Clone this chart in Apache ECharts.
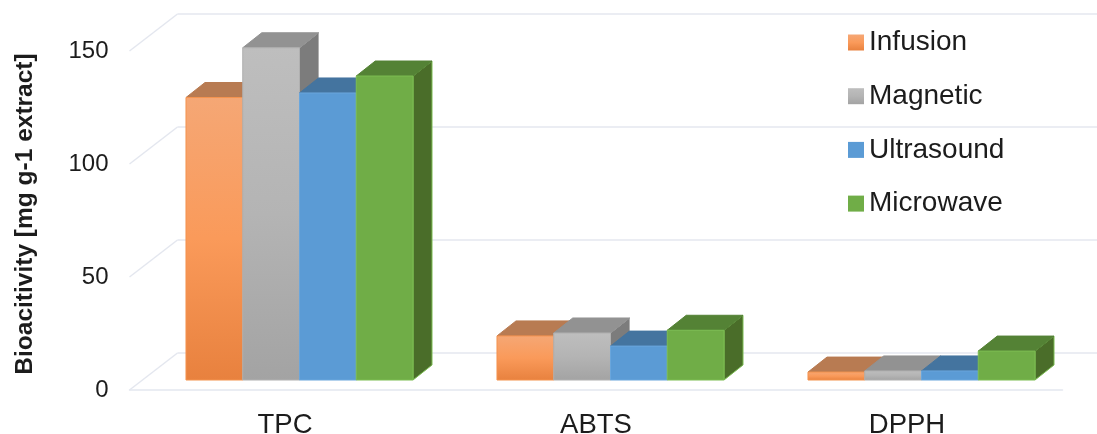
<!DOCTYPE html>
<html>
<head>
<meta charset="utf-8">
<style>
    html, body { margin: 0; padding: 0; background: #fff; }
    #main { width: 1097px; height: 434px; }
</style>
<script src="https://cdn.jsdelivr.net/npm/echarts@6/dist/echarts.min.js"></script>
</head>
<body>
<div id="main"></div>
<script>
let categories = ['TPC', 'ABTS', 'DPPH'];
let yTicks = [0, 50, 100, 150];
let infusion = [125, 19.5, 3.5];
let magnetic = [147, 20.8, 4];
let ultrasound = [127, 15, 4];
let microwave = [134.5, 22, 12.8];

let names = ['Infusion', 'Magnetic', 'Ultrasound', 'Microwave'];
let values = [infusion, magnetic, ultrasound, microwave];
let colors = [
    { front: ['#F5A775', '#FA9A5A', '#E8813E'], top: '#B87B52', side: '#8F5C38', edge: '#F4934F' },
    { front: ['#BEBEBE', '#B4B4B4', '#A3A3A3'], top: '#929292', side: '#7C7C7C', edge: '#B0B0B0' },
    { front: ['#5B9BD5', '#5B9BD5', '#5B9BD5'], top: '#44749F', side: '#3F6D97', edge: '#6AA6DC' },
    { front: ['#70AD47', '#70AD47', '#70AD47'], top: '#548235', side: '#4A6D29', edge: '#7CBD52' }
];
let gridColor = '#E4E7EF';

// depth of the chart floor and of the bars, in pixels
let floorX = 48, floorY = 37;
let barShiftX = 14.5, barShiftY = 10;
let depthX = 19, depthY = 15;
let barShare = 0.73;

function frontGradient(c){
    return new echarts.graphic.LinearGradient(0, 0, 0, 1, [
        { offset: 0, color: c.front[0] },
        { offset: 0.5, color: c.front[1] },
        { offset: 1, color: c.front[2] }
    ]);
}

function face(points, fill, edge){
    return {
        type: 'polygon',
        shape: { points: points },
        style: { fill: fill, stroke: edge, lineWidth: 1 }
    };
}

function barItem(idx){
    return function(params, api){
        let c = colors[idx],
            band = api.size([1, 0])[0],
            w = band * barShare / names.length,
            base = api.coord([api.value(0), 0]),
            tip = api.coord([api.value(0), api.value(1)]),
            x0 = base[0] + barShiftX - band * barShare / 2 + idx * w,
            x1 = x0 + w,
            y0 = base[1] - barShiftY,
            y1 = tip[1] - barShiftY;
        return {
            type: 'group',
            children: [
                face([[x1, y0], [x1 + depthX, y0 - depthY], [x1 + depthX, y1 - depthY], [x1, y1]], c.side, c.edge),
                face([[x0, y1], [x1, y1], [x1 + depthX, y1 - depthY], [x0 + depthX, y1 - depthY]], c.top, c.top),
                face([[x0, y0], [x1, y0], [x1, y1], [x0, y1]], frontGradient(c), c.edge)
            ]
        };
    };
}

// side wall and back wall lines, one per tick
function wallItem(params, api){
    let g = params.coordSys,
        p = api.coord([0, api.value(0)]),
        line = (a, b) => ({
            type: 'line',
            shape: { x1: a[0], y1: a[1], x2: b[0], y2: b[1] },
            style: { stroke: gridColor, lineWidth: 1.5 }
        }),
        back = [g.x + floorX, p[1] - floorY];
    return {
        type: 'group',
        children: [
            line([g.x, p[1]], back),
            line(back, [g.x + g.width + floorX, p[1] - floorY])
        ]
    };
}

let series = [{
    type: 'custom',
    silent: true,
    renderItem: wallItem,
    clip: false,
    data: yTicks.map(t => [t]),
    encode: { y: 0 }
}];
names.forEach((name, idx) => {
    series.push({
        name: name,
        type: 'custom',
        renderItem: barItem(idx),
        clip: false,
        itemStyle: { color: frontGradient(colors[idx]) },
        data: values[idx].map((v, i) => [i, v]),
        encode: { x: 0, y: 1 }
    });
});

let option = {
    backgroundColor: '#fff',
    animation: false,
    textStyle: { fontFamily: 'Liberation Sans', color: '#1c1c1c' },
    legend: {
        data: names,
        orient: 'vertical',
        left: 843,
        top: 23.5,
        itemWidth: 16,
        itemHeight: 16,
        itemGap: 25.7,
        icon: 'rect',
        selectedMode: false,
        textStyle: { fontFamily: 'Liberation Sans', fontSize: 28, color: '#1c1c1c' }
    },
    grid: {
        left: 129.5,
        top: 51,
        width: 933,
        height: 339,
        outerBoundsMode: 'none'
    },
    xAxis: {
        type: 'category',
        data: categories,
        axisTick: { show: false },
        axisLine: { lineStyle: { color: gridColor, width: 1.5 } },
        axisLabel: { margin: 21, fontSize: 27.5, color: '#1c1c1c', fontFamily: 'Liberation Sans' }
    },
    yAxis: {
        type: 'value',
        min: 0,
        max: 150,
        interval: 50,
        name: 'Bioacitivity [mg g-1 extract]',
        nameLocation: 'middle',
        nameRotate: 90,
        nameGap: 92,
        nameTextStyle: { fontFamily: 'Liberation Sans', fontWeight: 'bold', fontSize: 24.5, color: '#1c1c1c', padding: [0, 0, 0, 13] },
        axisLine: { show: false },
        axisTick: { show: false },
        splitLine: { show: false },
        axisLabel: { margin: 21, fontSize: 24, color: '#1c1c1c', fontFamily: 'Liberation Sans' }
    },
    series: series
};

let chart = echarts.init(document.getElementById('main'));
chart.setOption(option);
</script>
</body>
</html>
